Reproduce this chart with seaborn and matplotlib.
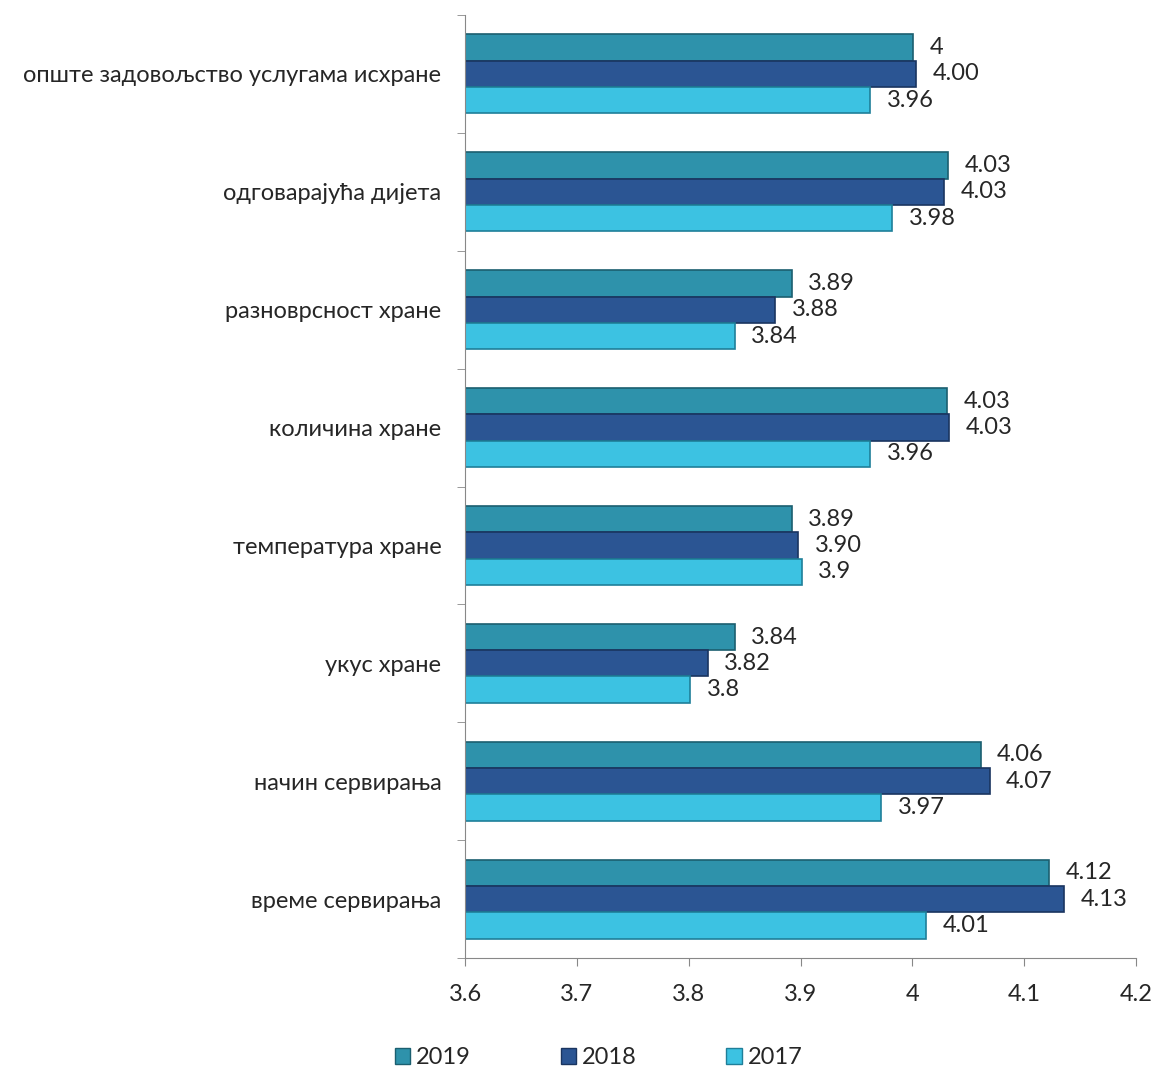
import matplotlib
matplotlib.use("Agg")
import matplotlib.pyplot as plt
import seaborn as sns
import pandas as pd
import numpy as np

categories = ["опште задовољство услугама исхране", "одговарајућа дијета", "разноврсност хране",
              "количина хране", "температура хране", "укус хране", "начин сервирања", "време сервирања"]
years = ["2019", "2018", "2017"]
vals_2019 = [4.001, 4.032, 3.892, 4.031, 3.892, 3.841, 4.061, 4.122]
vals_2018 = [4.003, 4.028, 3.877, 4.033, 3.898, 3.817, 4.069, 4.136]
vals_2017 = [3.962, 3.982, 3.841, 3.962, 3.901, 3.801, 3.972, 4.012]
labels_2019 = ["4", "4.03", "3.89", "4.03", "3.89", "3.84", "4.06", "4.12"]
labels_2018 = ["4.00", "4.03", "3.88", "4.03", "3.90", "3.82", "4.07", "4.13"]
labels_2017 = ["3.96", "3.98", "3.84", "3.96", "3.9", "3.8", "3.97", "4.01"]

colors = {"2019": "#2e92ab", "2018": "#2b5593", "2017": "#3cc2e2"}
edges = {"2019": "#1b5f70", "2018": "#1a3560", "2017": "#1f7f99"}

df = pd.DataFrame({
    "cat": categories * 3,
    "year": ["2019"] * 8 + ["2018"] * 8 + ["2017"] * 8,
    "val": vals_2019 + vals_2018 + vals_2017,
})

sns.set_style("white")
plt.rcParams["font.family"] = ["Lato", "DejaVu Sans"]

fig = plt.figure(figsize=(11.58, 10.74), dpi=100)
ax = fig.add_axes([0.4016, 0.108, 0.5794, 0.878])

sns.barplot(data=df, y="cat", x="val", hue="year", order=categories, hue_order=years,
            palette=colors, saturation=1, orient="h", width=0.67, ax=ax, legend=False)

for cont, yr, labs in zip(ax.containers, years, [labels_2019, labels_2018, labels_2017]):
    for bar in cont:
        bar.set_edgecolor(edges[yr])
        bar.set_linewidth(1.2)
        bar.set_x(3.6)
        bar.set_width(bar.get_width() - 3.6)
    ax.bar_label(cont, labels=labs, padding=12, fontsize=17)

ax.set_xlim(3.6, 4.2)
ax.set_ylim(len(categories) - 0.5, -0.5)
ax.set_xticks([3.6, 3.7, 3.8, 3.9, 4.0, 4.1, 4.2])
ax.set_xticklabels(["3.6", "3.7", "3.8", "3.9", "4", "4.1", "4.2"], fontsize=17)
ax.tick_params(axis="x", length=6, color="#888888", pad=13, bottom=True)
ax.tick_params(axis="y", length=0, labelsize=17, pad=17)
ax.set_yticks(np.arange(-0.5, len(categories), 1.0), minor=True)
ax.tick_params(axis="y", which="minor", length=6, color="#888888", left=True)
ax.set_xlabel("")
ax.set_ylabel("")
for s in ["top", "right"]:
    ax.spines[s].set_visible(False)
for s in ["left", "bottom"]:
    ax.spines[s].set_color("#888888")

handles = [plt.Rectangle((0, 0), 1, 1, facecolor=colors[y], edgecolor=edges[y]) for y in years]
fig.legend(handles, years, loc="center", bbox_to_anchor=(0.517, 0.015), ncol=3, frameon=False,
           fontsize=17, handlelength=0.65, handleheight=0.65, handletextpad=0.25, columnspacing=3.8)

fig.savefig("out.png", dpi=100)
